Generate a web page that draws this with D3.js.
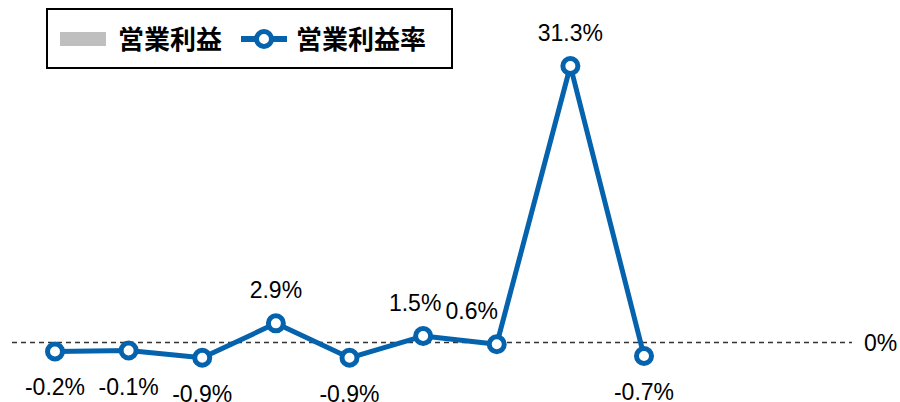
<!DOCTYPE html>
<html>
<head>
<meta charset="utf-8">
<script src="https://cdn.jsdelivr.net/npm/d3@7/dist/d3.min.js"></script>
<style>
  html, body { margin: 0; padding: 0; background: #fff; }
  svg { display: block; }
  .val { font-family: "Liberation Sans", Arial, sans-serif; font-size: 23px; fill: #000; }
  .leg { font-family: "Noto Sans CJK JP", sans-serif; font-size: 26px; font-weight: 700; fill: #000; }
</style>
</head>
<body>
<svg id="chart" width="900" height="402"></svg>
<script>
// Periods (not labelled on the chart)
const periods = ["1", "2", "3", "4", "5", "6", "7", "8", "9"];
// Operating profit margin, %
const marginValues = [-0.2, -0.1, -0.9, 2.9, -0.9, 1.5, 0.6, 31.3, -0.7];
const marginLabels = ["-0.2%", "-0.1%", "-0.9%", "2.9%", "-0.9%", "1.5%", "0.6%", "31.3%", "-0.7%"];
// Reference line on the profit axis
const referenceValue = 0;
const referenceLabel = "0%";
// Legend entries
const legendNames = ["営業利益", "営業利益率"];

const BLUE = "#0563ad";
const GREY = "#bfbfbf";

const svg = d3.select("#chart");

const x = d3.scalePoint().domain(periods).range([55, 644]);

// margin axis
const y = d3.scaleLinear().domain([-1, 31.3]).range([358.7, 66]);
// profit axis (bars), zero sits slightly above the margin zero
const yBar = d3.scaleLinear().domain([-1, 1]).range([351.5, 333.5]);

// dashed reference line
svg.append("line")
  .attr("x1", 12).attr("x2", 852)
  .attr("y1", yBar(referenceValue)).attr("y2", yBar(referenceValue))
  .attr("stroke", "#333").attr("stroke-width", 1.3)
  .attr("stroke-dasharray", "5,4");

svg.append("text")
  .attr("class", "val")
  .attr("x", 864).attr("y", yBar(referenceValue) + 8)
  .text(referenceLabel);

const data = periods.map((p, i) => ({ p, v: marginValues[i], label: marginLabels[i] }));

const line = d3.line().x(d => x(d.p)).y(d => y(d.v));

svg.append("path")
  .datum(data)
  .attr("d", line)
  .attr("fill", "none")
  .attr("stroke", BLUE)
  .attr("stroke-width", 5)
  .attr("stroke-linejoin", "round");

svg.selectAll("circle.pt")
  .data(data)
  .join("circle")
  .attr("class", "pt")
  .attr("cx", d => x(d.p))
  .attr("cy", d => y(d.v))
  .attr("r", 7.5)
  .attr("fill", "#fff")
  .attr("stroke", BLUE)
  .attr("stroke-width", 5);

// value labels: above for positive, below for negative
svg.selectAll("text.lbl")
  .data(data)
  .join("text")
  .attr("class", "val lbl")
  .attr("text-anchor", "middle")
  .attr("x", (d, i) => x(d.p) + (i === 6 ? -25 : i === 5 ? -8 : 0))
  .attr("y", d => d.v >= 0 ? y(d.v) - 25 : y(d.v) + 44)
  .text(d => d.label);

// legend
const lg = svg.append("g");
lg.append("rect")
  .attr("x", 47).attr("y", 9).attr("width", 405).attr("height", 59)
  .attr("fill", "#fff").attr("stroke", "#000").attr("stroke-width", 2);
lg.append("rect")
  .attr("x", 60).attr("y", 32).attr("width", 46).attr("height", 14)
  .attr("fill", GREY);
lg.append("text").attr("class", "leg").attr("x", 118).attr("y", 49).text(legendNames[0]);
lg.append("line")
  .attr("x1", 241).attr("x2", 287).attr("y1", 39).attr("y2", 39)
  .attr("stroke", BLUE).attr("stroke-width", 6);
lg.append("circle")
  .attr("cx", 264).attr("cy", 39).attr("r", 7.5)
  .attr("fill", "#fff").attr("stroke", BLUE).attr("stroke-width", 5);
lg.append("text").attr("class", "leg").attr("x", 296).attr("y", 49).text(legendNames[1]);
</script>
</body>
</html>
